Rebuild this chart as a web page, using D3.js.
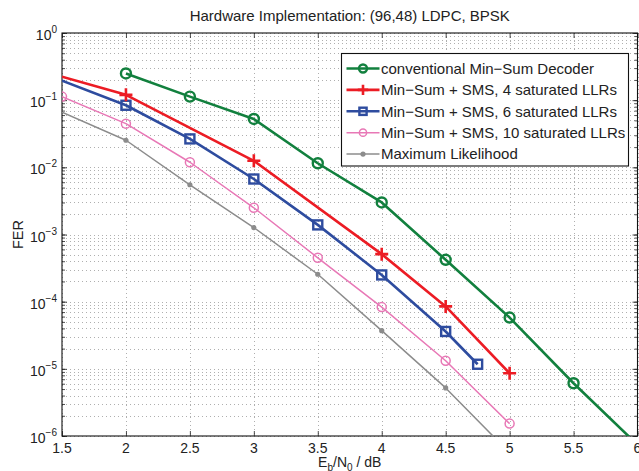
<!DOCTYPE html>
<html><head><meta charset="utf-8">
<script src="https://cdn.jsdelivr.net/npm/d3@7"></script>
<style>
html,body{margin:0;padding:0;background:#fff;}
svg{display:block;font-family:"Liberation Sans",Arial,Helvetica,sans-serif;}
</style></head>
<body><svg id="c" width="639" height="471"></svg>
<script>
// ---- data ----
const title = "Hardware Implementation: (96,48) LDPC, BPSK";
const xTicks = [1.5, 2, 2.5, 3, 3.5, 4, 4.5, 5, 5.5, 6];
const xTickLabels = ["1.5","2","2.5","3","3.5","4","4.5","5","5.5","6"];
const yTickExp = [0, -1, -2, -3, -4, -5, -6];

const convX = [2, 2.5, 3, 3.5, 4, 4.5, 5, 5.5, 6];
const convY = [0.25, 0.113, 0.0525, 0.0115, 0.003, 4.2e-4, 5.8e-5, 6.1e-6, 7.4e-7];
const convMark = [1, 1, 1, 1, 1, 1, 1, 1, 1];

const sms4X = [1.5, 2, 3, 4, 4.5, 5];
const sms4Y = [0.224, 0.12, 0.0125, 5.1e-4, 8.5e-5, 8.6e-6];
const sms4Mark = [0, 1, 1, 1, 1, 1];

const sms6X = [1.5, 2, 2.5, 3, 3.5, 4, 4.5, 4.75];
const sms6Y = [0.195, 0.084, 0.0265, 0.0067, 1.39e-3, 2.5e-4, 3.6e-5, 1.17e-5];
const sms6Mark = [0, 1, 1, 1, 1, 1, 1, 1];

const sms10X = [1.5, 2, 2.5, 3, 3.5, 4, 4.5, 5];
const sms10Y = [0.113, 0.0447, 0.0119, 2.5e-3, 4.5e-4, 8.3e-5, 1.32e-5, 1.53e-6];
const sms10Mark = [1, 1, 1, 1, 1, 1, 1, 1];

const mlX = [1.5, 2, 2.5, 3, 3.5, 4, 4.5, 5];
const mlY = [0.066, 0.0253, 5.5e-3, 1.27e-3, 2.56e-4, 3.7e-5, 5.2e-6, 5.6e-7];
const mlMark = [0, 1, 1, 1, 1, 1, 1, 1];

const seriesNames = [
  "conventional Min\u2212Sum Decoder",
  "Min\u2212Sum + SMS, 4 saturated LLRs",
  "Min\u2212Sum + SMS, 6 saturated LLRs",
  "Min\u2212Sum + SMS, 10 saturated LLRs",
  "Maximum Likelihood"
];

// ---- styles ----
const styles = [
  {color:"#12803e", width:2.6, marker:"circle", size:5, mw:2.4},
  {color:"#ec1c24", width:2.6, marker:"plus", size:6.5, mw:2.6},
  {color:"#2e4c9f", width:2.6, marker:"square", size:4.5, mw:2.4},
  {color:"#e878b6", width:1.5, marker:"circle", size:4.5, mw:1.5},
  {color:"#8c8c8c", width:1.5, marker:"dot", size:2.6, mw:0}
];
const series = [
  {x:convX, y:convY, m:convMark},
  {x:sms4X, y:sms4Y, m:sms4Mark},
  {x:sms6X, y:sms6Y, m:sms6Mark},
  {x:sms10X, y:sms10Y, m:sms10Mark},
  {x:mlX, y:mlY, m:mlMark}
];

const L = 62, R = 637.5, T = 33, B = 436;
const svg = d3.select("#c");
const x = d3.scaleLinear().domain([1.5, 6]).range([L, R]);
const y = d3.scaleLog().domain([1e-6, 1]).range([B, T]);

svg.append("defs").append("clipPath").attr("id","clip")
  .append("rect").attr("x",L).attr("y",T).attr("width",R-L).attr("height",B-T);

// grid
const grid = svg.append("g").attr("stroke","#9a9a9a").attr("stroke-width",0.8)
  .attr("stroke-dasharray","1,3").attr("fill","none");
const minorY = [];
for (let e = -6; e < 0; e++) for (let k = 1; k < 10; k++) minorY.push(k * Math.pow(10, e));
minorY.push(1);
grid.selectAll("line.h").data(minorY).join("line")
  .attr("x1",L).attr("x2",R).attr("y1",d=>Math.round(y(d))+0.5).attr("y2",d=>Math.round(y(d))+0.5);
grid.selectAll("line.v").data(xTicks).join("line")
  .attr("y1",T).attr("y2",B).attr("x1",d=>Math.round(x(d))+0.5).attr("x2",d=>Math.round(x(d))+0.5);

// axes with inside ticks
const xa = d3.axisBottom(x).tickValues(xTicks).tickSize(-5).tickFormat("");
const xt = d3.axisTop(x).tickValues(xTicks).tickSize(-5).tickFormat("");
svg.append("g").attr("transform",`translate(0,${B})`).call(xa).call(g=>g.select(".domain").remove());
svg.append("g").attr("transform",`translate(0,${T})`).call(xt).call(g=>g.select(".domain").remove());
const majorY = yTickExp.map(e=>Math.pow(10,e));
const yl = d3.axisLeft(y).tickValues(minorY).tickSize(-3).tickFormat("");
const yr = d3.axisRight(y).tickValues(minorY).tickSize(-3).tickFormat("");
const ylM = d3.axisLeft(y).tickValues(majorY).tickSize(-5).tickFormat("");
const yrM = d3.axisRight(y).tickValues(majorY).tickSize(-5).tickFormat("");
[ [yl,L],[ylM,L],[yr,R],[yrM,R] ].forEach(([a,p])=>{
  svg.append("g").attr("transform",`translate(${p},0)`).call(a).call(g=>g.select(".domain").remove());
});
svg.selectAll(".tick line").attr("stroke","#222").attr("stroke-width",0.8);
svg.append("rect").attr("x",L).attr("y",T).attr("width",R-L).attr("height",B-T)
  .attr("fill","none").attr("stroke","#111").attr("stroke-width",1.1);

// tick labels
svg.append("g").selectAll("text").data(xTicks).join("text")
  .attr("x",d=>x(d)).attr("y",B+16.5).attr("text-anchor","middle")
  .attr("font-size",14).attr("fill","#222").text((d,i)=>xTickLabels[i]);
const yg = svg.append("g").selectAll("text").data(yTickExp).join("text")
  .attr("x",L-5).attr("y",d=>y(Math.pow(10,d))+7).attr("text-anchor","end")
  .attr("font-size",14).attr("fill","#222");
yg.append("tspan").text("10");
yg.append("tspan").attr("dy",-7).attr("font-size",10).text(d=>d===0?"0":"\u2212"+(-d));

// title and axis labels
svg.append("text").attr("x",(L+R)/2).attr("y",21).attr("text-anchor","middle")
  .attr("font-size",15).attr("fill","#222").text(title);
svg.append("text").attr("transform",`translate(22.5,${(T+B)/2}) rotate(-90)`)
  .attr("text-anchor","middle").attr("font-size",14.5).attr("fill","#222").text("FER");
const xl = svg.append("text").attr("x",(L+R)/2).attr("y",467).attr("text-anchor","middle")
  .attr("font-size",14).attr("fill","#222");
xl.append("tspan").text("E");
xl.append("tspan").attr("font-size",10).attr("dy",4).text("b");
xl.append("tspan").attr("dy",-4).text("/N");
xl.append("tspan").attr("font-size",10).attr("dy",4).text("0");
xl.append("tspan").attr("dy",-4).text(" / dB");

// markers
function drawMarker(g, st, cx, cy){
  if (st.marker==="circle") {
    g.append("circle").attr("cx",cx).attr("cy",cy).attr("r",st.size)
      .attr("fill","none").attr("stroke",st.color).attr("stroke-width",st.mw);
  } else if (st.marker==="square") {
    g.append("rect").attr("x",cx-st.size).attr("y",cy-st.size).attr("width",2*st.size).attr("height",2*st.size)
      .attr("fill","none").attr("stroke",st.color).attr("stroke-width",st.mw);
  } else if (st.marker==="plus") {
    g.append("path").attr("d",`M${cx-st.size},${cy}H${cx+st.size}M${cx},${cy-st.size}V${cy+st.size}`)
      .attr("stroke",st.color).attr("stroke-width",st.mw).attr("fill","none");
  } else if (st.marker==="dot") {
    g.append("circle").attr("cx",cx).attr("cy",cy).attr("r",st.size).attr("fill",st.color);
  }
}

const plot = svg.append("g").attr("clip-path","url(#clip)");
const line = d3.line().x(d=>x(d[0])).y(d=>y(d[1]));
for (let i = series.length-1; i >= 0; i--) {
  const s = series[i], st = styles[i];
  const pts = s.x.map((v,j)=>[v, s.y[j], s.m[j]]);
  plot.append("path").datum(pts).attr("d",line).attr("fill","none")
    .attr("stroke",st.color).attr("stroke-width",st.width).attr("stroke-linejoin","round");
  const mg = plot.append("g");
  pts.filter(p=>p[2]).forEach(p=>drawMarker(mg, st, x(p[0]), y(p[1])));
}

// legend
const lg = svg.append("g");
lg.append("rect").attr("x",341.5).attr("y",53.5).attr("width",287).attr("height",112.5)
  .attr("fill","#fff").attr("stroke","#111").attr("stroke-width",1.1);
seriesNames.forEach((n,i)=>{
  const st = styles[i], cy = 68.5 + i*21.4;
  lg.append("line").attr("x1",346.5).attr("x2",379.5).attr("y1",cy).attr("y2",cy)
    .attr("stroke",st.color).attr("stroke-width",st.width);
  drawMarker(lg, Object.assign({}, st, {size: st.marker==="dot"?st.size:st.size*0.8}), 363, cy);
  lg.append("text").attr("x",381).attr("y",cy+5.2).attr("font-size",15).attr("fill","#222").text(n);
});
</script></body></html>
